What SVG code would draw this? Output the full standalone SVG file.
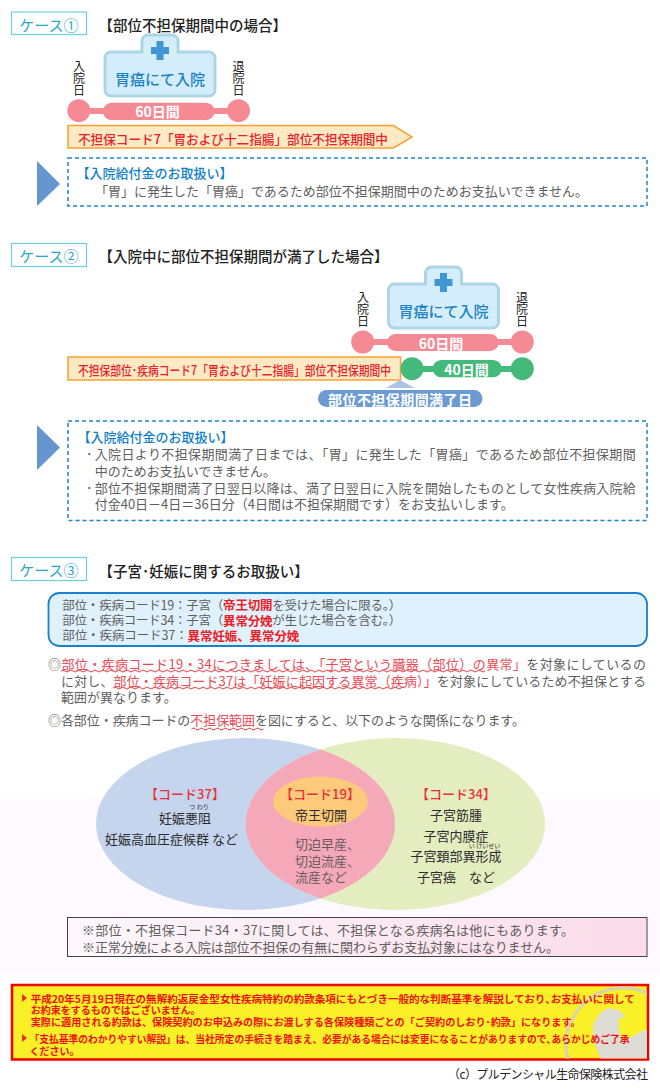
<svg xmlns="http://www.w3.org/2000/svg" width="660" height="1089" viewBox="0 0 660 1089">
<style>
text{font-family:"Noto Sans CJK JP","Noto Sans",sans-serif;font-size:13px;fill:#5f5f5f;dominant-baseline:central}
.title{font-size:14.5px;fill:#222;font-weight:500}
.case{font-size:15px;fill:#2aa9c4;text-anchor:middle}
.casebox{fill:#fff;stroke:#6cd0d8;stroke-width:1.2}
.dash{fill:#fff;stroke:#1a84cf;stroke-width:1.5;stroke-dasharray:4 3}
.tri{fill:#6596d0}
.hosp{fill:#d3edfa;stroke:#acd5e8;stroke-width:3}
.hname{font-size:15px;fill:#1c82c4;text-anchor:middle;font-weight:500}
.vert{font-size:12px;fill:#222;writing-mode:vertical-rl}
.pinkf{fill:#f58a94}
.greenf{fill:#43b97a}
.bar{font-size:14px;fill:#fff;font-weight:700;text-anchor:middle}
.ban{fill:#fde9c3;stroke:#f8a033;stroke-width:1.5}
.bant{font-size:13px;fill:#e8222c;font-weight:500}
.head{font-size:13px;fill:#0f7fc6;font-weight:500}
.r{fill:#ee1c25;font-weight:700}
.rr{fill:#ea4a55}
.wave{fill:none;stroke:#ee3a45;stroke-width:1}
.vc{font-size:13px;fill:#2c2c2c;text-anchor:middle}
.vh{font-size:13px;fill:#e8303a;text-anchor:middle;font-weight:500}
.vg{font-size:13px;fill:#6a5a60}
.ruby{font-size:6px;fill:#333;text-anchor:middle}
.red{font-size:10px;fill:#ee1010;font-weight:700}
.bul{fill:#e8321e}
</style>
<defs>
<linearGradient id="note" x1="0" x2="1" y1="0" y2="0"><stop offset="0" stop-color="#fdf7fb"/><stop offset="1" stop-color="#fbdce9"/></linearGradient>
<clipPath id="rc"><rect x="13" y="986" width="634" height="72.500"/></clipPath>
<g id="hospital">
<path d="M-18 14V3a6 6 0 0 1 6-6H12a6 6 0 0 1 6 6V14H49a6 6 0 0 1 6 6V52a6 6 0 0 1-6 6H-49a6 6 0 0 1-6-6V20a6 6 0 0 1 6-6Z" class="hosp"/>
<path d="M-3.500 3h7v6h5.500v7h-5.500v6h-7v-6h-5.500v-7h5.500Z" fill="#3f97d3"/>
</g>
</defs>
<rect width="660" height="1089" fill="#fff"/>
<rect y="799" width="660" height="174" fill="#fef9fe"/>

<g id="case1">
<rect class="casebox" x="11.500" y="12" width="75" height="22.500"/>
<text class="case" x="49" y="24">ケース①</text>
<text class="title" x="98.500" y="24">【部位不担保期間中の場合】</text>
</g>
<g id="case1-hospital">
<use href="#hospital" x="160" y="38"/>
<text class="hname" x="160" y="78">胃癌にて入院</text>
<text class="vert" x="79" y="60">入院日</text>
<text class="vert" x="238.500" y="60">退院日</text>
</g>
<g id="case1-period">
<rect class="pinkf" x="85" y="108" width="150" height="6"/>
<circle class="pinkf" cx="78.800" cy="110.700" r="11.500"/>
<circle class="pinkf" cx="238.500" cy="110.700" r="11.500"/>
<rect class="pinkf" x="103" y="102.700" width="111.500" height="17.300" rx="8.600"/>
<text class="bar" x="157.500" y="111">60日間</text>
</g>
<g id="case1-banner">
<path class="ban" d="M68 125.500H393.500L412 137L393.500 148H68Z"/>
<text class="bant" x="78" y="138" textLength="310" lengthAdjust="spacingAndGlyphs">不担保コード7「胃および十二指腸」部位不担保期間中</text>
</g>
<g id="case1-result">
<path class="tri" d="M37 161L60 184L37 206Z"/>
<rect class="dash" x="68" y="158" width="579" height="48"/>
<text class="head" x="76.500" y="172.700">【入院給付金のお取扱い】</text>
<text x="95" y="190.500" textLength="493">「胃」に発生した「胃癌」であるため部位不担保期間中のためお支払いできません。</text>
</g>

<g id="case2">
<rect class="casebox" x="11.500" y="243.500" width="75" height="23"/>
<text class="case" x="49" y="255">ケース②</text>
<text class="title" x="98.500" y="255">【入院中に部位不担保期間が満了した場合】</text>
</g>
<g id="case2-hospital">
<use href="#hospital" x="443.500" y="270"/>
<text class="hname" x="443.500" y="310">胃癌にて入院</text>
<text class="vert" x="363" y="291">入院日</text>
<text class="vert" x="522" y="291">退院日</text>
</g>
<g id="case2-period">
<rect class="pinkf" x="368" y="339" width="150" height="6"/>
<circle class="pinkf" cx="362.700" cy="342" r="11.500"/>
<circle class="pinkf" cx="522.300" cy="342" r="11.500"/>
<rect class="pinkf" x="387" y="334" width="111.700" height="17" rx="8.500"/>
<text class="bar" x="441" y="343">60日間</text>
</g>
<g id="case2-banner">
<rect class="ban" x="68" y="357" width="332.500" height="23"/>
<text class="bant" x="78" y="369" textLength="313" lengthAdjust="spacingAndGlyphs">不担保部位･疾病コード7「胃および十二指腸」部位不担保期間中</text>
</g>
<g id="case2-green">
<rect class="greenf" x="418" y="366" width="100" height="6"/>
<circle class="greenf" cx="412" cy="368.700" r="11.500"/>
<circle class="greenf" cx="522.300" cy="368.700" r="11.500"/>
<rect class="greenf" x="432.700" y="360" width="69" height="17.300" rx="8.600"/>
<text class="bar" x="466.500" y="369">40日間</text>
</g>
<g id="case2-expiry">
<path d="M400 380L414.500 388H386Z" fill="#a9c4e6"/>
<rect x="318" y="390" width="164.500" height="17" rx="8.500" fill="#6b9bd2"/>
<text class="bar" x="400" y="398.700" textLength="144">部位不担保期間満了日</text>
</g>
<g id="case2-result">
<path class="tri" d="M37 425L60 447.500L37 470Z"/>
<rect class="dash" x="68" y="421" width="579" height="99.500"/>
<text class="head" x="77.500" y="436.700">【入院給付金のお取扱い】</text>
<text x="86" y="453.300">･</text>
<text x="94.700" y="453.300" textLength="541">入院日より不担保期間満了日までは、「胃」に発生した「胃癌」であるため部位不担保期間</text>
<text x="94.700" y="470">中のためお支払いできません。</text>
<text x="86" y="487.300">･</text>
<text x="94.700" y="487.300" textLength="541">部位不担保期間満了日翌日以降は、満了日翌日に入院を開始したものとして女性疾病入院給</text>
<text x="94.700" y="503.700">付金40日－4日＝36日分（4日間は不担保期間です）をお支払いします。</text>
</g>

<g id="case3">
<rect class="casebox" x="11.500" y="557.500" width="75" height="23"/>
<text class="case" x="49" y="569.500">ケース③</text>
<text class="title" x="98.500" y="570">【子宮･妊娠に関するお取扱い】</text>
</g>
<g id="case3-codes">
<rect x="48.500" y="593" width="598.500" height="53" rx="11" fill="#dff1fc" stroke="#1a80c8" stroke-width="1.800"/>
<text x="62.300" y="604.300" textLength="339" style="font-size:12.500px">部位・疾病コード19：子宮（<tspan class="r">帝王切開</tspan>を受けた場合に限る。）</text>
<text x="62.300" y="619.700" textLength="339" style="font-size:12.500px">部位・疾病コード34：子宮（<tspan class="r">異常分娩</tspan>が生じた場合を含む。）</text>
<text x="62.300" y="634.700" textLength="237" style="font-size:12.500px">部位・疾病コード37：<tspan class="r">異常妊娠、異常分娩</tspan></text>
</g>
<g id="case3-text">
<text x="48" y="663.300" textLength="598">◎<tspan class="rr">部位・疾病コード19・34につきましては、「子宮という臓器（部位）の異常」</tspan>を対象にしているの</text>
<text x="61" y="680" textLength="585">に対し、<tspan class="rr">部位・疾病コード37は「妊娠に起因する異常（疾病）」</tspan>を対象にしているため不担保とする</text>
<text x="61" y="696.700">範囲が異なります。</text>
<text x="48" y="719.300" textLength="477">◎各部位・疾病コードの<tspan class="rr">不担保範囲</tspan>を図にすると、以下のような関係になります。</text>
<path class="wave" d="M61 671q2-2 4 0t4 0t4 0t4 0t4 0t4 0t4 0t4 0t4 0t4 0t4 0t4 0t4 0t4 0t4 0t4 0t4 0t4 0t4 0t4 0t4 0t4 0t4 0t4 0t4 0t4 0t4 0t4 0t4 0t4 0t4 0t4 0t4 0t4 0t4 0t4 0t4 0t4 0t4 0t4 0t4 0t4 0t4 0t4 0t4 0t4 0t4 0t4 0t4 0t4 0t4 0t4 0t4 0t4 0t4 0t4 0t4 0t4 0t4 0t4 0t4 0t4 0t4 0t4 0t4 0t4 0t4 0t4 0t4 0t4 0t4 0t4 0t4 0t4 0t4 0t4 0t4 0t4 0t4 0t4 0t4 0t4 0t4 0t4 0t4 0t4 0t4 0t4 0t4 0t4 0t4 0t4 0t4 0t4 0t4 0t4 0t4 0t4 0t4 0t4 0t4 0t4 0t4 0t4 0t4 0t4 0"/>
<path class="wave" d="M113 688q2-2 4 0t4 0t4 0t4 0t4 0t4 0t4 0t4 0t4 0t4 0t4 0t4 0t4 0t4 0t4 0t4 0t4 0t4 0t4 0t4 0t4 0t4 0t4 0t4 0t4 0t4 0t4 0t4 0t4 0t4 0t4 0t4 0t4 0t4 0t4 0t4 0t4 0t4 0t4 0t4 0t4 0t4 0t4 0t4 0t4 0t4 0t4 0t4 0t4 0t4 0t4 0t4 0t4 0t4 0t4 0t4 0t4 0t4 0t4 0t4 0t4 0t4 0t4 0t4 0t4 0t4 0t4 0t4 0t4 0t4 0t4 0t4 0t4 0"/>
<path class="wave" d="M191.500 729q2-2 4 0t4 0t4 0t4 0t4 0t4 0t4 0t4 0t4 0t4 0t4 0t4 0t4 0t4 0t4 0t4 0t4 0t4 0"/>
</g>
<g id="venn">
<ellipse cx="245.500" cy="824" rx="149.500" ry="86" fill="#c5d5ee"/>
<ellipse cx="395.300" cy="824" rx="149.700" ry="86" fill="#e4edc0"/>
<path d="M320.400 749.600A149.500 86 0 0 1 395 824A149.500 86 0 0 1 320.400 898.400A149.700 86 0 0 1 245.600 824A149.700 86 0 0 1 320.400 749.600Z" fill="#f5a9b8"/>
<ellipse cx="320.500" cy="801.500" rx="47.500" ry="25" fill="#fdc97a"/>
</g>
<g id="venn-37">
<text class="vh" x="185" y="793">【コード37】</text>
<text class="ruby" x="199" y="806.500">つ わり</text>
<text class="vc" x="185" y="817">妊娠悪阻</text>
<text class="vc" x="171.500" y="838">妊娠高血圧症候群 など</text>
</g>
<g id="venn-19">
<text class="vh" x="320" y="793">【コード19】</text>
<text class="vc" x="321" y="814">帝王切開</text>
<text class="vg" x="295" y="843">切迫早産、</text>
<text class="vg" x="295" y="860">切迫流産、</text>
<text class="vg" x="295" y="876.500">流産など</text>
</g>
<g id="venn-34">
<text class="vh" x="456" y="793">【コード34】</text>
<text class="vc" x="456" y="814">子宮筋腫</text>
<text class="vc" x="456" y="835">子宮内膜症</text>
<text class="ruby" x="484.500" y="845">い けいせい</text>
<text class="vc" x="456" y="855">子宮頚部異形成</text>
<text class="vc" x="456" y="876">子宮癌　など</text>
</g>
<g id="note-box">
<rect x="67.500" y="917.500" width="579.500" height="39" fill="url(#note)" stroke="#444" stroke-width="1"/>
<text x="82" y="929" textLength="492">※部位・不担保コード34・37に関しては、不担保となる疾病名は他にもあります。</text>
<text x="82" y="946" textLength="477">※正常分娩による入院は部位不担保の有無に関わらずお支払対象にはなりません。</text>
</g>
<g id="disclaimer">
<rect x="12" y="985" width="636" height="74.500" fill="#faf028" stroke="#f20000" stroke-width="2.500"/>
<g clip-path="url(#rc)">
<circle cx="623" cy="1045" r="57" fill="none" stroke="#d8d6a8" stroke-width="3.500"/>
<path d="M601 1060L593 1038V1024L600 1013L608 1008L619 1010L626 1018L619 1018V1031L624 1041L642 1031L654 1028V1060Z" fill="#dcdcd4"/>
</g>
<path class="bul" d="M22 994l5 4l-5 4Z"/><path class="bul" d="M22 1034l5 4l-5 4Z"/>
<text class="red" x="30.700" y="998.300" textLength="604" lengthAdjust="spacingAndGlyphs">平成20年5月19日現在の無解約返戻金型女性疾病特約の約款条項にもとづき一般的な判断基準を解説しており､お支払いに関して</text>
<text class="red" x="30.700" y="1009.500">お約束をするものではございません。</text>
<text class="red" x="30.700" y="1021" textLength="550" lengthAdjust="spacingAndGlyphs">実際に適用される約款は、保険契約のお申込みの際にお渡しする各保険種類ごとの「ご契約のしおり･約款」になります。</text>
<text class="red" x="29.500" y="1038.500" textLength="600" lengthAdjust="spacingAndGlyphs">「支払基準のわかりやすい解説」は、当社所定の手続きを踏まえ、必要がある場合には変更になることがありますので､あらかじめご了承</text>
<text class="red" x="29.500" y="1050">ください。</text>
</g>
<text id="copyright" x="448" y="1073" textLength="200" style="font-size:12px;fill:#222">（c）プルデンシャル生命保険株式会社</text>
</svg>
